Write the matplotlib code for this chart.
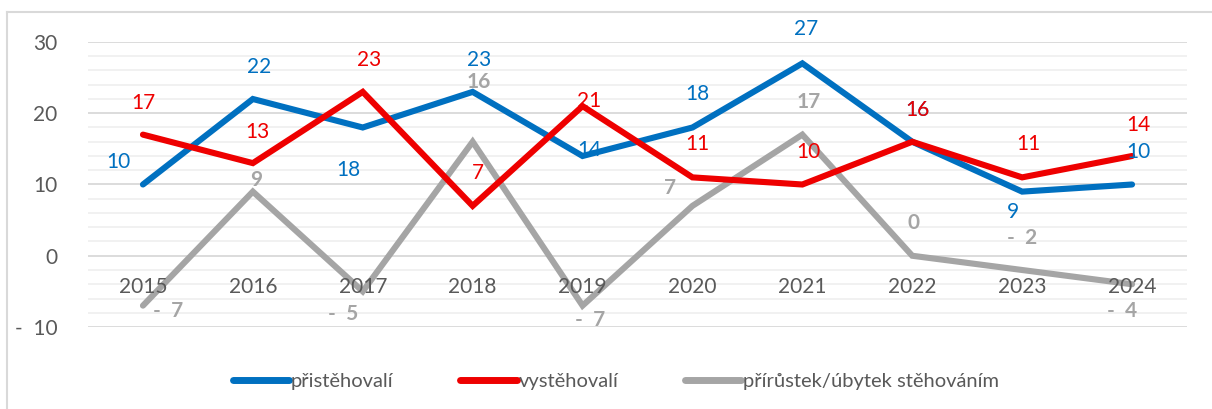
import matplotlib
matplotlib.use("Agg")
import matplotlib.pyplot as plt
from matplotlib.lines import Line2D
import numpy as np

plt.rcParams['font.family'] = ['Lato', 'DejaVu Sans']

years = ['2015', '2016', '2017', '2018', '2019', '2020', '2021', '2022', '2023', '2024']
prist = [10, 22, 18, 23, 14, 18, 27, 16, 9, 10]
vyst = [17, 13, 23, 7, 21, 11, 10, 16, 11, 14]
prir = [-7, 9, -5, 16, -7, 7, 17, 0, -2, -4]
names = ['přistěhovalí', 'vystěhovalí', 'přírůstek/úbytek stěhováním']

colors = ['#0070C0', '#EE0000', '#A5A5A5']

# label offsets in pixels (dx, dy up)
off_blue = [(-25, 22), (6, 32), (-14, -43), (6, 32), (7, 6), (5, 33), (4, 34), (5, 32), (-9, -20), (6, 32)]
off_red = [(0, 32), (5, 31), (6, 32), (5, 33), (7, 5), (5, 33), (6, 32), (5, 32), (6, 33), (6, 31)]
off_gray = [(25, -5), (3, 12), (-20, -23), (6, 60), (8, -14), (-22, 18), (6, 33), (1, 33), (0, 32), (-10, -27)]

W, H = 1212, 409
fig = plt.figure(figsize=(W / 100, H / 100), dpi=100)
ax = fig.add_axes([88 / W, 1 - 327 / H, (1187 - 88) / W, (327 - 42) / H])

x = np.arange(len(years))
ax.set_xlim(-0.5, len(years) - 0.5)
ax.set_ylim(-10, 30)

# grid
for v in np.arange(-10, 31, 2):
    if v % 10 == 0:
        ax.axhline(v, color='#D9D9D9', lw=1.3, zorder=1)
    else:
        ax.axhline(v, color='#F0F0F0', lw=1.3, zorder=1)

series = [prist, vyst, prir]
offs = [off_blue, off_red, off_gray]
for k in [2, 0, 1]:
    ax.plot(x, series[k], color=colors[k], lw=4.4, solid_capstyle='round',
            solid_joinstyle='miter', zorder=3 + k if k != 2 else 2)

def fmt(v):
    return f'-  {abs(v)}' if v < 0 else str(v)

for k in [2, 0, 1]:
    for i, v in enumerate(series[k]):
        dx, dy = offs[k][i]
        ax.annotate(fmt(v), (x[i], v), xytext=(dx * 0.72, dy * 0.72),
                    textcoords='offset points', ha='center', va='center',
                    color=colors[k], fontsize=15,
                    fontweight='bold' if k == 2 else 'normal', zorder=10 + k)

# x labels at zero line
for i, y in enumerate(years):
    ax.annotate(y, (x[i], 0), xytext=(0, -31 * 0.72), textcoords='offset points',
                ha='center', va='center', color='#595959', fontsize=15, zorder=9)

ax.set_xticks([])
ax.set_yticks([-10, 0, 10, 20, 30])
ax.set_yticklabels(['-  10', '0', '10', '20', '30'])
ax.tick_params(axis='y', length=0, labelsize=15, labelcolor='#595959', pad=22)
for s in ax.spines.values():
    s.set_visible(False)

handles = [Line2D([0], [0], color=c, lw=5, solid_capstyle='round') for c in colors]
leg = fig.legend(handles, names, loc='center', bbox_to_anchor=(616 / W, 1 - 381 / H),
                 ncol=3, frameon=False, fontsize=14.5, handlelength=2.8,
                 handletextpad=0.1, columnspacing=3.3, labelcolor='#595959')

# outer frame
fig.add_artist(Line2D([7 / W, 7 / W], [0, 1 - 12 / H], transform=fig.transFigure,
                      color='#D9D9D9', lw=1.5))
fig.add_artist(Line2D([7 / W, 1], [1 - 12 / H, 1 - 12 / H], transform=fig.transFigure,
                      color='#D9D9D9', lw=1.5))

fig.savefig('out.png', dpi=100)
